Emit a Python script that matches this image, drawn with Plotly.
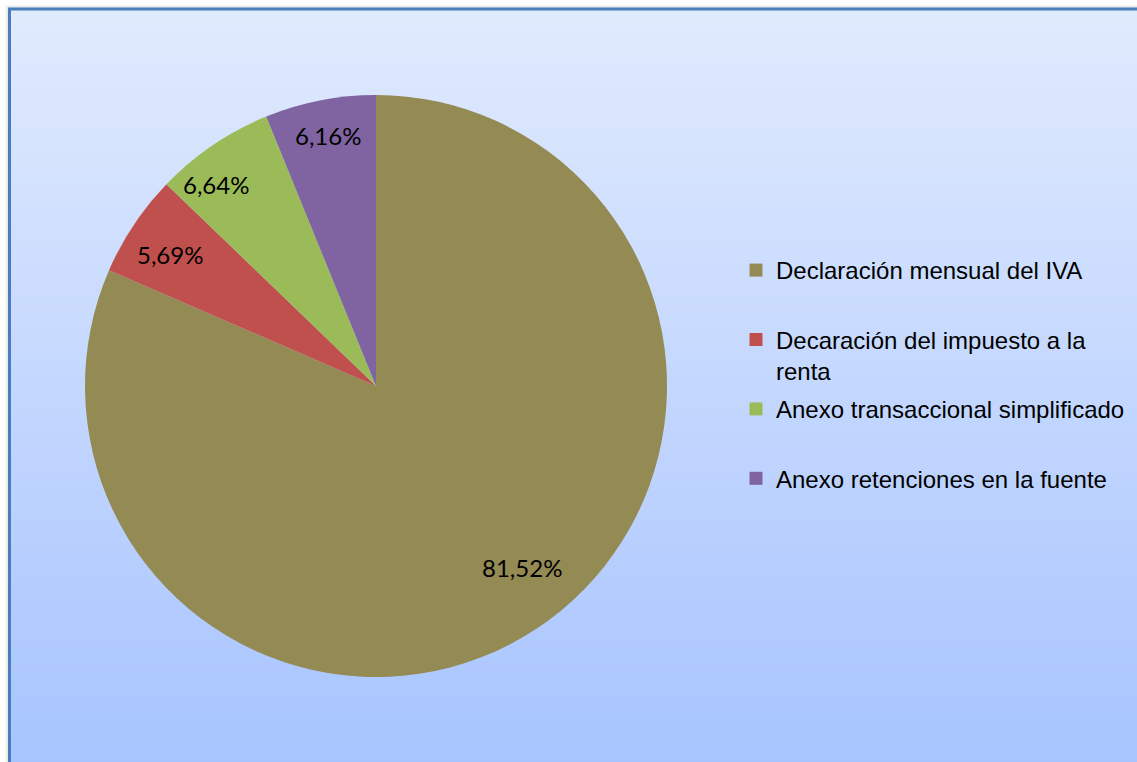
import math
import plotly.graph_objects as go

labels = ["Declaración mensual del IVA", "Decaración del impuesto a la renta",
          "Anexo transaccional simplificado", "Anexo retenciones en la fuente"]
legend_labels = ["Declaración mensual del IVA<br> ", "Decaración del impuesto a la<br>renta",
                 "Anexo transaccional simplificado<br> ", "Anexo retenciones en la fuente<br> "]
values = [81.52, 5.69, 6.64, 6.16]
colors = ["#948A54", "#C0504D", "#9BBB59", "#8064A2"]

# label placement style: radius fraction and angular nudge (degrees) from mid-angle
label_r = [0.80, 0.84, 0.885, 0.875]
label_dang = [-5.5, -1.0, -4.4, 0.2]

W, H = 1137, 762
pct_text = [f"{v:.2f}%".replace(".", ",") for v in values]

fig = go.Figure()

# shadow, background gradient bands and frame
top = (224, 234, 253)
bot = (165, 195, 255)
shapes = []
bx, by = 9.5, 9.0
x0, y_top = bx / W, 1 - by / H
XR, YB = 1.05, -0.05
for off, col in [(4, "#F4F4F4"), (3, "#ECECEC"), (2, "#E2E2E2")]:
    shapes.append(dict(type="rect", xref="paper", yref="paper", x0=(bx - off) / W, x1=XR,
                       y0=YB, y1=1 - (by - off) / H, fillcolor=col, line_width=0, layer="below"))
n = 80
for i in range(n):
    t = i / (n - 1)
    c = tuple(round(top[k] + (bot[k] - top[k]) * t) for k in range(3))
    ya = y_top - (y_top - YB) * i / n
    yb = y_top - (y_top - YB) * (i + 1) / n
    shapes.append(dict(type="rect", xref="paper", yref="paper", x0=x0, x1=XR,
                       y0=yb, y1=ya + 0.001, fillcolor="rgb(%d,%d,%d)" % c,
                       line_width=0, layer="below"))
shapes.append(dict(type="rect", xref="paper", yref="paper", x0=x0, x1=XR,
                   y0=YB, y1=y_top, fillcolor="rgba(0,0,0,0)",
                   line=dict(color="#4A7EBB", width=3), layer="below"))

cx, cy, R = 376, 386, 291
fig.add_trace(go.Pie(
    labels=labels, values=values, text=pct_text, textinfo="none",
    sort=False, direction="clockwise", rotation=0,
    marker=dict(colors=colors, line=dict(width=0)),
    showlegend=False, hoverinfo="label+text",
    domain=dict(x=[(cx - R) / W, (cx + R) / W], y=[1 - (cy + R) / H, 1 - (cy - R) / H]),
))

# percentage labels placed near each slice's mid-angle
total = sum(values)
annotations = []
cum = 0.0
for v, txt, f, da in zip(values, pct_text, label_r, label_dang):
    mid = (cum + v / 2) / total * 2 * math.pi + math.radians(da)
    cum += v
    px = cx + f * R * math.sin(mid)
    py = cy - f * R * math.cos(mid)
    annotations.append(dict(x=px / W, y=1 - py / H, xref="paper", yref="paper",
                            xanchor="center", yanchor="middle",
                            text=txt, showarrow=False,
                            font=dict(family="Lato, Carlito, sans-serif", size=24, color="black")))

for i in range(4):
    fig.add_trace(go.Scatter(
        x=[None], y=[None], mode="markers", name=legend_labels[i],
        marker=dict(symbol="square", size=13, color=colors[i]),
        legendgroup=str(i), showlegend=True, hoverinfo="skip",
    ))

fig.update_layout(
    width=W, height=H, margin=dict(l=0, r=0, t=0, b=0),
    paper_bgcolor="white", plot_bgcolor="rgba(0,0,0,0)",
    xaxis=dict(visible=False), yaxis=dict(visible=False),
    shapes=shapes, annotations=annotations,
    legend=dict(x=736 / W, y=1 - 248 / H, xanchor="left", yanchor="top",
                font=dict(family="Liberation Sans, Arial, sans-serif", size=24, color="black"),
                bgcolor="rgba(0,0,0,0)", tracegroupgap=4, valign="top",
                itemwidth=30),
)
fig.write_html("out.html", config={"displayModeBar": False},
               post_script="document.body.style.margin='0';document.body.style.overflow='hidden';")
